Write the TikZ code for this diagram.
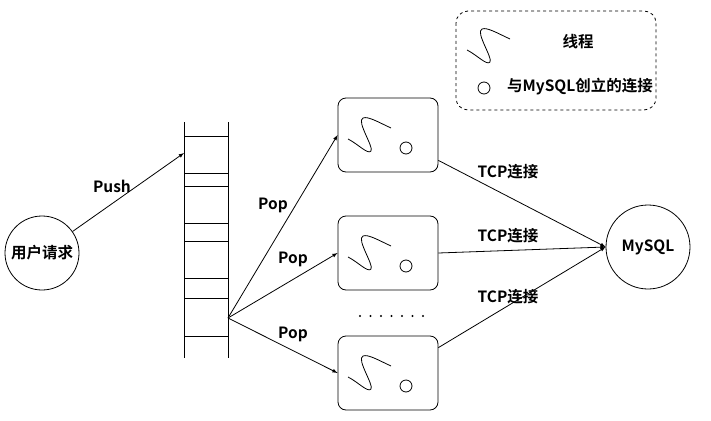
\documentclass[tikz,border=0pt]{standalone}
\usepackage{fontspec}
\setmainfont{Noto Sans CJK SC}[BoldFont={Noto Sans CJK SC Bold}]
\begin{document}
\begin{tikzpicture}[x=1pt,y=-1pt,font=\fontsize{15.5}{18}\selectfont\bfseries,
  lbl/.style={inner sep=1pt},
  thr/.style={draw,rounded corners=8pt,minimum width=100pt,minimum height=74pt,line width=0.8pt},
  arr/.style={-latex,line width=0.8pt},
  ln/.style={line width=0.8pt},
  pics/sq/.style={code={\draw[line width=0.8pt] (0,0) .. controls (10,5) and (20,16) .. (23,12) .. controls (26,8) and (8,-18) .. (15,-21) .. controls (20,-23) and (30,-17) .. (43,-11);}}]
\useasboundingbox (0,0) rectangle (711,420);
% legend
\draw[dashed,rounded corners=12pt,line width=0.8pt] (456,11) rectangle (656,110);
\pic at (467,50) {sq};
\node[draw,circle,minimum size=12pt,inner sep=0,line width=0.8pt] (lc) at (484,88) {};
\node[lbl] (l1) at (578,42) {线程};
\node[lbl] (l2) at (580,87) {与MySQL创立的连接};
% user
\node[draw,circle,minimum size=74pt,inner sep=0,line width=0.8pt] (u) at (42,253) {用户请求};
% queue
\draw[ln] (184,122) -- (184,358) (228,122) -- (228,358);
\foreach \a/\b in {136/173,186/223,241/278,298/336} \draw[ln] (184,\a) rectangle (228,\b);
\coordinate (pin) at (184,153);
\coordinate (pout) at (228,318);
\draw[arr] (u) -- (pin);
\node[lbl] at (112,186) {Push};
% threads
\foreach \n/\y in {a/135,b/253,c/373}{
  \node[thr] (\n) at (388,\y) {};
  \pic at (348,\y+4) {sq};
  \node[draw,circle,minimum size=12pt,inner sep=0,line width=0.8pt] (\n c) at (406,\y+13) {};
}
\node[draw,circle,minimum size=84pt,inner sep=0,line width=0.8pt] (m) at (648,247) {MySQL};
\draw[arr] (pout) -- (a.west);
\draw[arr] (pout) -- (b.west);
\draw[arr] (pout) -- (c.west);
\node[lbl] at (273,205) {Pop};
\node[lbl] at (293,259) {Pop};
\node[lbl] at (293,334) {Pop};
\draw[arr] (a.south east) ++(0,-12) -- (m.west);
\draw[arr] (b.east) -- (m.west);
\draw[arr] (c.north east) ++(0,12) -- (m.west);
\node[lbl] at (508,172) {TCP连接};
\node[lbl] at (508,236) {TCP连接};
\node[lbl] at (508,297) {TCP连接};
\foreach \i in {0,...,6} \fill (360+10.5*\i,316) circle (1.1);
\end{tikzpicture}
\end{document}
